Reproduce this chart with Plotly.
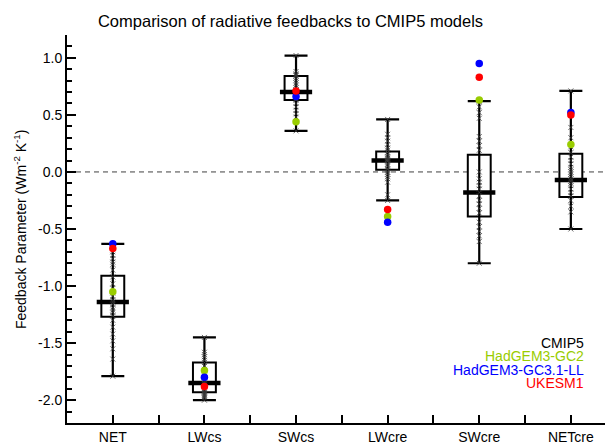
import numpy as np
import plotly.graph_objects as go

# ---- data ----
categories = ["NET", "LWcs", "SWcs", "LWcre", "SWcre", "NETcre"]

# CMIP5 box statistics (min, quartiles, median, max)
cmip5_min = [-1.79, -2.00, 0.36, -0.25, -0.80, -0.50]
cmip5_q1 = [-1.27, -1.93, 0.63, 0.02, -0.39, -0.22]
cmip5_median = [-1.14, -1.85, 0.70, 0.10, -0.18, -0.07]
cmip5_q3 = [-0.91, -1.67, 0.84, 0.18, 0.15, 0.16]
cmip5_max = [-0.63, -1.45, 1.02, 0.46, 0.62, 0.71]

# individual CMIP5 models (crosses)
net_models = [-0.63, -0.70, -0.73, -0.76, -0.79, -0.81, -0.86, -0.92, -0.98, -1.02,
              -1.06, -1.09, -1.12, -1.14, -1.16, -1.19, -1.21, -1.23, -1.26, -1.30,
              -1.36, -1.42, -1.48, -1.55, -1.64, -1.79]
lwcs_models = [-1.45, -1.58, -1.60, -1.62, -1.65, -1.67, -1.70, -1.73, -1.76, -1.79,
               -1.82, -1.84, -1.85, -1.86, -1.87, -1.88, -1.90, -1.92, -1.93, -1.94,
               -1.95, -1.96, -1.97, -1.98, -2.00]
swcs_models = [1.02, 0.88, 0.86, 0.85, 0.84, 0.82, 0.80, 0.78, 0.76, 0.74, 0.72, 0.71,
               0.70, 0.69, 0.68, 0.67, 0.66, 0.65, 0.64, 0.63, 0.60, 0.57, 0.54, 0.51,
               0.48, 0.36]
lwcre_models = [0.46, 0.33, 0.30, 0.27, 0.24, 0.21, 0.19, 0.17, 0.15, 0.13, 0.12, 0.11,
                0.10, 0.09, 0.07, 0.05, 0.03, 0.02, 0.00, -0.02, -0.04, -0.06, -0.09,
                -0.20, -0.25]
swcre_models = [0.62, 0.57, 0.52, 0.47, 0.31, 0.27, 0.23, 0.19, 0.00, -0.06, -0.09,
                -0.12, -0.15, -0.18, -0.21, -0.25, -0.28, -0.32, -0.36, -0.44, -0.48,
                -0.52, -0.56, -0.61, -0.80]
netcre_models = [0.71, 0.52, 0.39, 0.30, 0.22, 0.17, 0.13, 0.10, 0.07, 0.04, 0.02, 0.00,
                 -0.02, -0.04, -0.06, -0.08, -0.10, -0.12, -0.15, -0.18, -0.21, -0.25,
                 -0.30, -0.35, -0.50]

# highlighted models
hadgem3_gc2 = [-1.05, -1.74, 0.44, -0.39, 0.63, 0.24]
hadgem3_gc31_ll = [-0.63, -1.80, 0.66, -0.44, 0.95, 0.52]
ukesm1 = [-0.67, -1.88, 0.71, -0.33, 0.83, 0.50]

y_tick_values = [-2.0, -1.5, -1.0, -0.5, 0.0, 0.5, 1.0]

# ---- figure ----
FONT = "Liberation Sans, Arial, sans-serif"
xpos = np.arange(len(categories))
vmin = np.array(cmip5_min)
vmax = np.array(cmip5_max)
vmed = np.array(cmip5_median)

fig = go.Figure()

# whiskers with caps
fig.add_trace(go.Scatter(
    x=xpos, y=vmed, mode="markers",
    marker=dict(size=1, color="rgba(0,0,0,0)"),
    error_y=dict(type="data", symmetric=False, array=vmax - vmed,
                 arrayminus=vmed - vmin, color="black", thickness=2.2, width=11.5),
    showlegend=False, hoverinfo="skip"))

# boxes
fig.add_trace(go.Box(
    x=xpos, q1=cmip5_q1, median=cmip5_median, q3=cmip5_q3,
    lowerfence=cmip5_q1, upperfence=cmip5_q3,
    width=0.25, fillcolor="white", line=dict(color="black", width=2),
    whiskerwidth=0, boxpoints=False, showlegend=False, hoverinfo="skip"))

# thick median bars
fig.add_trace(go.Scatter(
    x=xpos, y=cmip5_median, mode="markers",
    marker=dict(symbol="line-ew", size=23, line=dict(color="black", width=4.5)),
    showlegend=False, hoverinfo="skip"))

# individual CMIP5 models
model_lists = [net_models, lwcs_models, swcs_models, lwcre_models, swcre_models, netcre_models]
xs, ys = [], []
for i, vals in enumerate(model_lists):
    xs += [xpos[i]] * len(vals)
    ys += list(vals)
fig.add_trace(go.Scatter(
    x=xs, y=ys, mode="markers",
    marker=dict(symbol="x-thin", size=5, line=dict(color="rgba(60,60,60,0.75)", width=1)),
    showlegend=False, hoverinfo="skip"))

# highlighted models
for vals, col in [(hadgem3_gc2, "#99CC00"), (hadgem3_gc31_ll, "#0000FF"), (ukesm1, "#FF0000")]:
    fig.add_trace(go.Scatter(
        x=xpos, y=vals, mode="markers",
        marker=dict(symbol="circle", size=7.5, color=col),
        showlegend=False, hoverinfo="skip"))

# zero line
fig.add_shape(type="line", xref="paper", x0=0, x1=1, yref="y", y0=0, y1=0,
              line=dict(color="#404040", width=1, dash="5px,4px"), layer="below")

# legend text
legend_items = [("CMIP5", "black"), ("HadGEM3-GC2", "#99CC00"),
                ("HadGEM3-GC3.1-LL", "#0000FF"), ("UKESM1", "#FF0000")]
legend_y = [0.2053, 0.1718, 0.1358, 0.1023]
for (txt, col), yy in zip(legend_items, legend_y):
    fig.add_annotation(text=txt, xref="paper", yref="paper", x=0.95, y=yy,
                       xanchor="right", yanchor="middle", showarrow=False,
                       font=dict(family=FONT, size=14, color=col))

# y axis title
fig.add_annotation(text="Feedback Parameter (Wm<sup>-2</sup> K<sup>-1</sup>)",
                   xref="paper", yref="paper", x=-0.086, y=0.5, textangle=-90,
                   xanchor="center", yanchor="middle", showarrow=False,
                   font=dict(family=FONT, size=14, color="black"))

fig.update_layout(
    width=605, height=437,
    margin=dict(l=59, r=0, t=26.5, b=22.3),
    paper_bgcolor="white", plot_bgcolor="white",
    font=dict(family=FONT, size=14, color="black"),
    title=dict(text="Comparison of radiative feedbacks to CMIP5 models",
               xref="container", yref="container", x=0.467, y=0.9687,
               xanchor="center", yanchor="middle",
               font=dict(family=FONT, size=16.5, color="black")),
    xaxis=dict(range=[-0.5, 5.46], tickmode="array", tickvals=xpos, ticktext=categories,
               ticks="inside", ticklen=8, tickwidth=2, tickcolor="black",
               showline=True, linewidth=2, linecolor="black",
               showgrid=False, zeroline=False,
               minor=dict(tickmode="linear", tick0=0.5, dtick=1, ticks="inside",
                          ticklen=8, tickwidth=2, tickcolor="black", showgrid=False),
               tickfont=dict(family=FONT, size=14, color="black")),
    yaxis=dict(range=[-2.2, 1.2], tickmode="array", tickvals=y_tick_values,
               ticktext=[f"{v:.1f}" for v in y_tick_values],
               ticks="inside", ticklen=9, tickwidth=2, tickcolor="black",
               showline=True, linewidth=2, linecolor="black",
               showgrid=False, zeroline=False,
               minor=dict(tickmode="linear", tick0=0, dtick=0.1, ticks="inside",
                          ticklen=5, tickwidth=2, tickcolor="black", showgrid=False),
               tickfont=dict(family=FONT, size=14, color="black")),
)

fig.write_html("out.html")
